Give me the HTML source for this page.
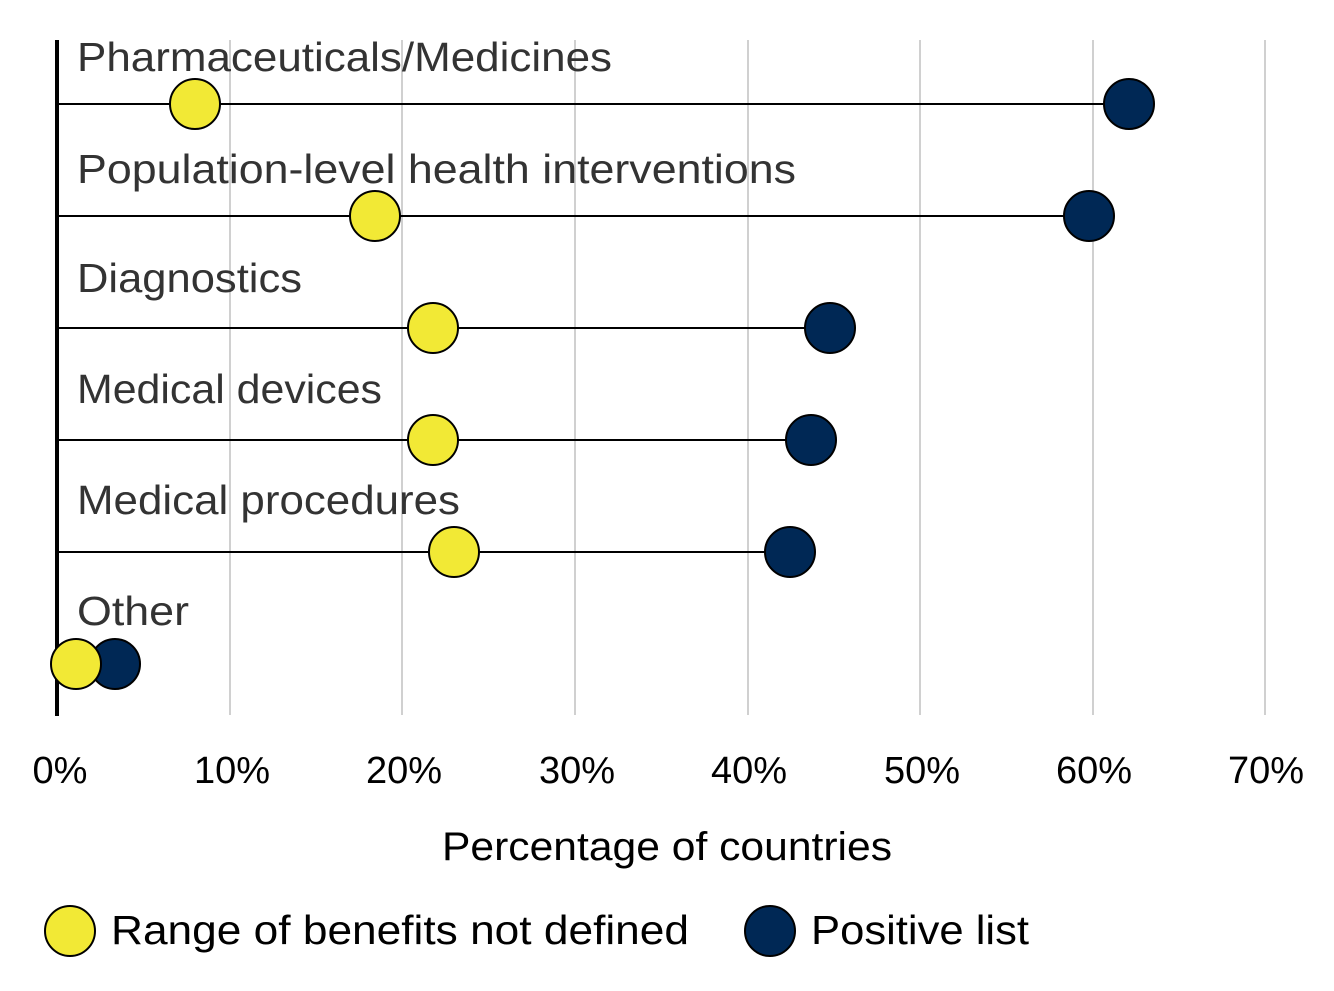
<!DOCTYPE html>
<html><head><style>body{margin:0;background:#fff}svg text{font-family:"Liberation Sans",sans-serif}</style></head><body>
<svg width="1334" height="986" xmlns="http://www.w3.org/2000/svg">
<g stroke="#d0d0d0" stroke-width="2">
<line x1="230" y1="40" x2="230" y2="715"/><line x1="402" y1="40" x2="402" y2="715"/><line x1="575" y1="40" x2="575" y2="715"/><line x1="748" y1="40" x2="748" y2="715"/><line x1="920" y1="40" x2="920" y2="715"/><line x1="1093" y1="40" x2="1093" y2="715"/><line x1="1265" y1="40" x2="1265" y2="715"/>
</g>
<g fill="#333" font-size="41">
<text x="77" y="71" textLength="535" lengthAdjust="spacingAndGlyphs">Pharmaceuticals/Medicines</text>
<text x="77" y="183" textLength="719" lengthAdjust="spacingAndGlyphs">Population-level health interventions</text>
<text x="77" y="292" textLength="225" lengthAdjust="spacingAndGlyphs">Diagnostics</text>
<text x="77" y="403" textLength="305" lengthAdjust="spacingAndGlyphs">Medical devices</text>
<text x="77" y="514" textLength="383" lengthAdjust="spacingAndGlyphs">Medical procedures</text>
<text x="77" y="625" textLength="112" lengthAdjust="spacingAndGlyphs">Other</text>
</g>
<g stroke="#000" stroke-width="2">
<line x1="57" y1="104" x2="1129" y2="104"/><line x1="57" y1="216" x2="1089" y2="216"/><line x1="57" y1="328" x2="830" y2="328"/><line x1="57" y1="440" x2="811" y2="440"/><line x1="57" y1="552" x2="790" y2="552"/><line x1="57" y1="664" x2="115" y2="664"/>
</g>
<line x1="57" y1="40" x2="57" y2="716" stroke="#000" stroke-width="4"/>
<g stroke="#000" stroke-width="2" fill="#002855">
<circle cx="1129" cy="104" r="25"/><circle cx="1089" cy="216" r="25"/><circle cx="830" cy="328" r="25"/><circle cx="811" cy="440" r="25"/><circle cx="790" cy="552" r="25"/><circle cx="115" cy="664" r="25"/>
</g>
<g stroke="#000" stroke-width="2" fill="#f2e935">
<circle cx="195" cy="104" r="25"/><circle cx="375" cy="216" r="25"/><circle cx="433" cy="328" r="25"/><circle cx="433" cy="440" r="25"/><circle cx="454" cy="552" r="25"/><circle cx="76" cy="664" r="25"/>
</g>
<g fill="#000" font-size="38" text-anchor="middle">
<text x="60" y="783">0%</text><text x="232" y="783">10%</text><text x="404" y="783">20%</text><text x="577" y="783">30%</text><text x="749" y="783">40%</text><text x="922" y="783">50%</text><text x="1094" y="783">60%</text><text x="1266" y="783">70%</text>
<text x="667" y="860" font-size="40" textLength="450" lengthAdjust="spacingAndGlyphs">Percentage of countries</text>
</g>
<circle cx="70" cy="931" r="25" fill="#f2e935" stroke="#000" stroke-width="2"/>
<text x="111" y="944" font-size="41" textLength="578" lengthAdjust="spacingAndGlyphs">Range of benefits not defined</text>
<circle cx="770" cy="931" r="25" fill="#002855" stroke="#000" stroke-width="2"/>
<text x="811" y="944" font-size="41" textLength="218" lengthAdjust="spacingAndGlyphs">Positive list</text>
</svg>
</body></html>
